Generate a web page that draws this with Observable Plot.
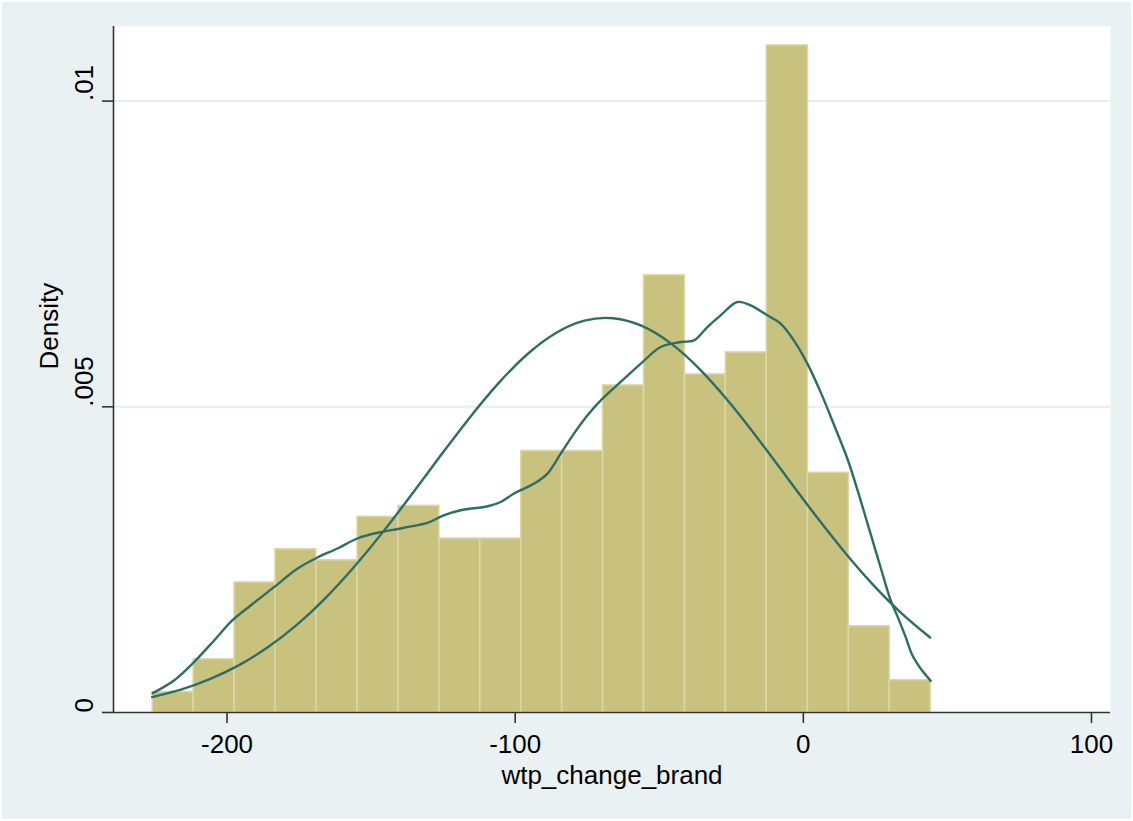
<!DOCTYPE html>
<html>
<head>
<meta charset="utf-8">
<script src="https://cdn.jsdelivr.net/npm/d3@7"></script>
<script src="https://cdn.jsdelivr.net/npm/@observablehq/plot@0.6"></script>
<style>
  html, body { margin: 0; padding: 0; background: #ffffff; }
  #wrap { position: absolute; left: 2px; top: 2px; width: 1129px; height: 817px; background: #eaf1f3; }
</style>
</head>
<body>
<div id="wrap"></div>
<script>
// ---- data ----
const binEdges = [-225.8, -211.6, -197.4, -183.2, -169.0, -154.7, -140.5, -126.3, -112.1, -97.9,
                  -83.7, -69.5, -55.3, -41.1, -26.9, -12.7, 1.6, 15.8, 30.0, 44.2];
const binDensity = [0.000337, 0.000871, 0.002126, 0.00267, 0.00249, 0.0032, 0.00338, 0.002845, 0.002845, 0.004277,
                    0.004277, 0.00535, 0.00715, 0.00553, 0.00589, 0.01091, 0.00392, 0.001411, 0.000528];

const kdeX = [-225.8, -218.3, -211.4, -204.4, -198.1, -191.7, -183.6, -175.5, -168.8, -161.5,
              -154.6, -147.7, -138.6, -130.0, -124.8, -118.9, -109.5, -105.0, -100.4, -93.4,
              -88.8, -84.2, -79.6, -74.9, -70.3, -63.4, -56.4, -49.5, -42.5, -37.9,
              -33.3, -28.7, -22.9, -18.3, -12.5, -7.9, -3.3, 1.4, 6.0, 10.6,
              15.3, 19.3, 23.3, 26.8, 30.3, 32.6, 35.5, 37.8, 40.7, 44.2];
const kdeY = [0.000316, 0.000528, 0.000827, 0.001182, 0.001509, 0.001754, 0.002054, 0.002354, 0.002531, 0.002686,
              0.00285, 0.00294, 0.003022, 0.003111, 0.003226, 0.003308, 0.003373, 0.003443, 0.003581, 0.003744,
              0.003908, 0.004235, 0.004562, 0.004861, 0.005106, 0.005406, 0.005706, 0.005978, 0.00606, 0.006087,
              0.006305, 0.006496, 0.006714, 0.006659, 0.006496, 0.00636, 0.006087, 0.005706, 0.00524, 0.00471,
              0.004150, 0.003560, 0.002930, 0.002376, 0.001836, 0.001580, 0.001236, 0.000940, 0.000719, 0.000517];

const normX = [-226, -216, -206, -196, -186, -176, -166, -156, -146, -136,
               -126, -116, -106, -96, -86, -76, -66, -56, -46, -36,
               -26, -16, -6, 4, 14, 24, 34, 44];
const normY = [0.000252, 0.000375, 0.000545, 0.000771, 0.001062, 0.001426, 0.001864, 0.002375, 0.002946, 0.003561,
               0.004194, 0.00481, 0.005375, 0.005851, 0.006204, 0.006409, 0.006449, 0.006322, 0.006037, 0.005617,
               0.00509, 0.004494, 0.003865, 0.003238, 0.002643, 0.0021, 0.001627, 0.001227];

const xTicks = [-200, -100, 0, 100];
const xTickLabels = ["-200", "-100", "0", "100"];
const yTicks = [0, 0.005, 0.01];
const yTickLabels = ["0", ".005", ".01"];
const gridVals = [0.005, 0.01];
const xTitle = "wtp_change_brand";
const yTitle = "Density";

// ---- build tables ----
const bins = binDensity.map((d, i) => ({x1: binEdges[i], x2: binEdges[i + 1], d}));
const kde = kdeX.map((x, i) => ({x, y: kdeY[i]}));
const normal = normX.map((x, i) => ({x, y: normY[i]}));

const xDomain = [-239.4, 106.6];
const yDomain = [0, 0.01122];

const barFill = "#c9c27f";
const barEdge = "#dcd7a7";
const lineColor = "#2e6d66";
const axisColor = "#333333";

const chart = Plot.plot({
  width: 1129,
  height: 817,
  marginLeft: 111,
  marginRight: 21,
  marginTop: 24,
  marginBottom: 107,
  x: {domain: xDomain},
  y: {domain: yDomain},
  style: {
    background: "transparent",
    fontFamily: "'Liberation Sans', Arial, Helvetica, sans-serif",
    fontSize: "26px",
    color: "#000"
  },
  marks: [
    Plot.frame({fill: "white", stroke: null}),
    Plot.ruleY(gridVals, {stroke: "#e4edf0", strokeWidth: 2}),
    Plot.rectY(bins, {x1: "x1", x2: "x2", y: "d", fill: barFill, stroke: barEdge, strokeWidth: 1.5}),
    Plot.line(normal, {x: "x", y: "y", curve: "natural", stroke: lineColor, strokeWidth: 2.4}),
    Plot.line(kde, {x: "x", y: "y", curve: "catmull-rom", stroke: lineColor, strokeWidth: 2.4}),
    Plot.ruleY([yDomain[0]], {stroke: axisColor, strokeWidth: 1.6}),
    Plot.ruleX([xDomain[0]], {stroke: axisColor, strokeWidth: 1.6}),
    Plot.axisX({ticks: xTicks, tickSize: 11, tickPadding: 11, tickFormat: d => xTickLabels[xTicks.indexOf(d)], stroke: axisColor, strokeWidth: 1.6, label: null, fill: "#000"}),
    Plot.axisY({ticks: yTicks, tickSize: 11, tickFormat: () => "", stroke: axisColor, strokeWidth: 1.6, label: null}),
    Plot.text(yTicks, {y: d => d, text: (d, i) => yTickLabels[i], frameAnchor: "left", rotate: -90, dx: -21, lineAnchor: "bottom", fill: "#000"}),
    Plot.text([xTitle], {text: d => d, frameAnchor: "bottom", dy: 71, lineAnchor: "bottom", fill: "#000"}),
    Plot.text([yTitle], {text: d => d, frameAnchor: "left", rotate: -90, dx: -56, lineAnchor: "bottom", fill: "#000"})
  ]
});
document.getElementById("wrap").appendChild(chart);
</script>
</body>
</html>
